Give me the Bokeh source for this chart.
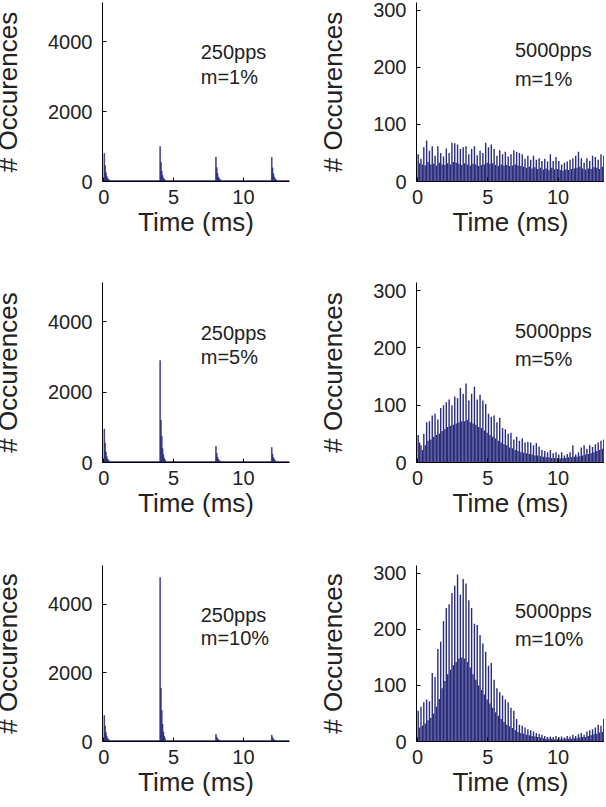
import numpy as np
from bokeh.plotting import figure
from bokeh.layouts import column, row
from bokeh.models import Range1d, FixedTicker
from bokeh.embed import file_html
from bokeh.resources import INLINE
from bokeh.core.properties import value

# ---------------- data ----------------
# 250 pps panels: pulse-locked histogram spikes (0.06 ms bins after each pulse)
pulse_times_250 = [0, 4, 8, 12]
decay_bin_ms = 0.06
spikes_250_m1 = [
    [800, 450, 250, 150, 90, 60, 40],
    [1000, 550, 300, 170, 100, 60, 40],
    [700, 400, 230, 130, 80, 50, 30],
    [690, 390, 220, 130, 80, 50, 30],
]
spikes_250_m5 = [
    [950, 550, 300, 170, 100, 60, 40],
    [2900, 1200, 750, 400, 220, 120, 70],
    [460, 260, 150, 90, 55, 35, 20],
    [430, 240, 140, 85, 50, 30, 20],
]
spikes_250_m10 = [
    [760, 450, 260, 150, 90, 55, 35],
    [4770, 1550, 900, 500, 280, 150, 80],
    [210, 130, 80, 50, 30, 20, 12],
    [190, 120, 70, 45, 28, 18, 12],
]
floor_250 = [35, 35, 35]
t_end = 13.3

# 5000 pps panels: 0.1 ms bins, alternating pulse-locked bin (peak) and in-between bin (trough)
bin_ms = 0.1
peak_5000_m1 = [48, 40, 60, 72, 54, 62, 45, 62, 50, 44, 58, 50, 68, 67, 65, 57, 60, 62, 48, 57,
                62, 46, 54, 50, 68, 60, 65, 57, 45, 55, 48, 52, 44, 48, 55, 52, 50, 48, 40, 45,
                38, 45, 38, 41, 36, 40, 35, 48, 36, 43, 36, 30, 33, 35, 38, 41, 45, 52, 41, 33,
                41, 36, 45, 43, 38, 48, 45]
trough_5000_m1 = [32, 30, 28, 34, 30, 31, 28, 33, 30, 29, 32, 30, 34, 33, 31, 29, 32, 30, 28, 31,
                  30, 27, 29, 30, 33, 31, 32, 29, 27, 30, 28, 29, 27, 28, 30, 28, 27, 26, 24, 26,
                  23, 25, 22, 24, 21, 23, 20, 24, 21, 22, 20, 19, 21, 20, 22, 23, 24, 26, 23, 21,
                  23, 22, 25, 24, 22, 26, 25]
peak_5000_m5 = [48, 30, 50, 70, 72, 82, 85, 75, 95, 100, 105, 110, 100, 115, 112, 130, 120, 138, 108, 120,
                132, 110, 118, 108, 102, 85, 80, 82, 70, 78, 60, 58, 50, 52, 40, 45, 38, 42, 35, 36,
                35, 30, 34, 28, 22, 20, 18, 22, 16, 18, 14, 18, 12, 15, 18, 30, 14, 18, 26, 30,
                24, 30, 27, 32, 35, 38, 40]
trough_5000_m5 = [35, 22, 30, 38, 40, 45, 48, 50, 55, 58, 62, 64, 66, 68, 70, 72, 72, 74, 70, 68,
                  66, 62, 60, 56, 52, 48, 45, 42, 38, 35, 32, 30, 26, 25, 22, 20, 18, 17, 16, 15,
                  14, 12, 12, 11, 10, 9, 9, 8, 8, 8, 7, 8, 8, 9, 9, 10, 10, 11, 12, 14,
                  15, 16, 18, 20, 22, 24, 26]
peak_5000_m10 = [55, 62, 70, 75, 72, 122, 115, 165, 178, 215, 238, 245, 265, 278, 298, 262, 290, 282, 252, 238,
                 210, 208, 190, 175, 160, 135, 140, 110, 95, 88, 82, 75, 70, 60, 55, 40, 30, 28, 25, 22,
                 20, 18, 15, 14, 12, 10, 8, 9, 8, 10, 8, 9, 7, 10, 9, 12, 10, 13, 15, 12,
                 18, 20, 22, 25, 30, 28, 40]
trough_5000_m10 = [25, 28, 32, 38, 42, 50, 62, 76, 95, 108, 120, 128, 136, 142, 148, 150, 148, 142, 132, 120,
                   110, 100, 92, 84, 75, 68, 60, 52, 46, 40, 35, 30, 27, 24, 20, 17, 15, 14, 12, 11,
                   10, 9, 8, 7, 6, 5, 5, 5, 4, 4, 4, 4, 5, 5, 5, 6, 6, 7, 8, 8,
                   10, 11, 13, 14, 16, 17, 20]

labels_m = ["m=1%", "m=5%", "m=10%"]
rate_250 = "250pps"
rate_5000 = "5000pps"
xticks = [0, 5, 10]
yticks_250 = [0, 2000, 4000]
yticks_5000 = [0, 100, 200, 300]

# ---------------- style ----------------
NAVY = "#2a2c7c"
TXT = "#222222"
FONT = "Liberation Sans"


def style(p, yticks):
    p.xgrid.visible = False
    p.ygrid.visible = False
    p.outline_line_color = None
    p.background_fill_color = None
    p.border_fill_color = None
    for ax in (p.xaxis[0], p.yaxis[0]):
        ax.axis_line_color = "black"
        ax.axis_line_width = 1
        ax.major_tick_in = 4
        ax.major_tick_out = 0
        ax.minor_tick_line_color = None
        ax.major_tick_line_color = "black"
        ax.major_label_text_font = FONT
        ax.major_label_text_font_size = "20px"
        ax.major_label_text_color = TXT
        ax.axis_label_text_font = FONT
        ax.axis_label_text_font_size = "26px"
        ax.axis_label_text_font_style = "normal"
        ax.axis_label_text_color = TXT
    p.xaxis[0].ticker = FixedTicker(ticks=xticks)
    p.yaxis[0].ticker = FixedTicker(ticks=yticks)
    p.xaxis[0].axis_label = "Time (ms)"
    p.yaxis[0].axis_label = "# Occurences"
    p.xaxis[0].major_label_standoff = 8
    p.xaxis[0].axis_label_standoff = 0
    p.yaxis[0].major_label_standoff = 10
    p.yaxis[0].axis_label_standoff = 22


row_tops = [2, 1, 1]
frame_h = [179, 180, 179]
row_bottoms = [100, 102, 55]
SHIFT_LEFT = 10


def make_left(i, spikes, mlabel):
    p = figure(width=303 + SHIFT_LEFT, height=row_tops[i] + frame_h[i] + row_bottoms[i],
               x_range=Range1d(-0.1, t_end), y_range=Range1d(0, 5120),
               output_backend="svg", toolbar_location=None,
               min_border_left=102 + SHIFT_LEFT, min_border_right=14,
               min_border_top=row_tops[i], min_border_bottom=row_bottoms[i])
    p.quad(left=[0], right=[t_end], bottom=[0], top=[floor_250[i]],
           fill_color=NAVY, line_color=None)
    xs, tops = [], []
    for t0, vals in zip(pulse_times_250, spikes):
        for k, v in enumerate(vals):
            xs.append(t0 + (k + 0.5) * decay_bin_ms)
            tops.append(v)
    p.vbar(x=xs, top=tops, width=decay_bin_ms, fill_color=NAVY, line_color=NAVY, line_width=0.5)
    p.text(x=[6.94, 6.94], y=[3690, 3000], text=[rate_250, mlabel],
           text_font=value(FONT), text_font_size="20px", text_color=TXT,
           text_baseline="alphabetic", text_align="left")
    style(p, yticks_250)
    return p


def make_right(i, peaks, troughs, mlabel):
    p = figure(width=301, height=row_tops[i] + frame_h[i] + row_bottoms[i],
               x_range=Range1d(-0.07, t_end), y_range=Range1d(0, 314),
               output_backend="svg", toolbar_location=None,
               min_border_left=113, min_border_right=0,
               min_border_top=row_tops[i], min_border_bottom=row_bottoms[i])
    n = len(peaks)
    idx = np.arange(n)
    px = idx * 2 * bin_ms + bin_ms / 2
    tx = idx * 2 * bin_ms + bin_ms * 1.5
    p.vbar(x=tx, top=troughs, width=bin_ms, fill_color=NAVY, line_color=None)
    p.vbar(x=px, top=peaks, width=bin_ms, fill_color=NAVY, line_color=None)
    ylab = 230 if i < 2 else 233
    p.text(x=[6.93, 6.93], y=[ylab, ylab - 50], text=[rate_5000, mlabel],
           text_font=value(FONT), text_font_size="20px", text_color=TXT,
           text_baseline="alphabetic", text_align="left")
    style(p, yticks_5000)
    return p


lefts = [spikes_250_m1, spikes_250_m5, spikes_250_m10]
peaks = [peak_5000_m1, peak_5000_m5, peak_5000_m10]
troughs = [trough_5000_m1, trough_5000_m5, trough_5000_m10]

rows = []
for i in range(3):
    rows.append(row(make_left(i, lefts[i], labels_m[i]),
                    make_right(i, peaks[i], troughs[i], labels_m[i])))

layout = column(*rows, margin=(0, 0, 0, -SHIFT_LEFT))

open("out.html", "w").write(file_html(layout, INLINE))
